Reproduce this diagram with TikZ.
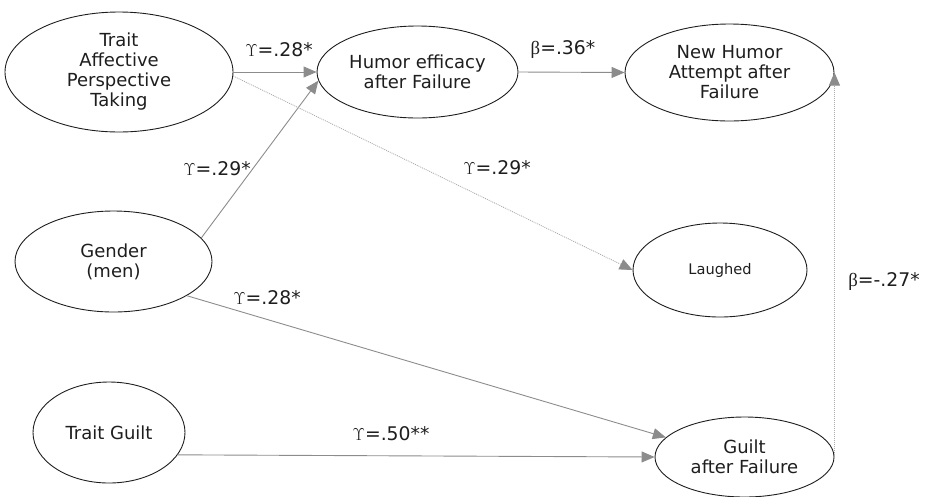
\documentclass[tikz,border=0pt]{standalone}
\usepackage{fontspec}
\setmainfont{DejaVu Sans}
\newfontfamily\grk{Liberation Serif}
\usetikzlibrary{shapes.geometric,arrows.meta}
\definecolor{arrgray}{RGB}{140,140,140}
\definecolor{dotgray}{RGB}{170,170,170}
\definecolor{ink}{RGB}{30,30,30}
\newcommand{\Ups}{$\Upsilon$}
\begin{document}
\begin{tikzpicture}[x=1pt,y=-1pt,
  var/.style={draw=ink, line width=0.9pt, ellipse, inner sep=0pt, align=center,
    text=ink, font=\fontsize{18}{20}\selectfont},
  tip/.style={-{Triangle[length=13pt,width=11pt,fill=arrgray,color=arrgray]}},
  solidarr/.style={draw=arrgray, line width=0.9pt, tip},
  dotarr/.style={draw=dotgray, line width=0.8pt, dash pattern=on 1pt off 1pt, tip},
  coef/.style={text=ink, font=\fontsize{18.8}{20}\selectfont, inner sep=0pt}
]
\useasboundingbox (0,0) rectangle (933,496);

\node[var, minimum width=228pt, minimum height=120pt] (apt) at (119,72) {Trait\\Affective\\Perspective\\Taking};
\node[var, minimum width=201pt, minimum height=92pt] (hum) at (417.5,72) {Humor efficacy\\after Failure};
\node[var, minimum width=209pt, minimum height=97pt] (nha) at (729.5,72.5) {New Humor\\Attempt after\\Failure};
\node[var, minimum width=197pt, minimum height=101pt] (gen) at (113.5,261.5) {Gender\\(men)};
\node[var, minimum width=174pt, minimum height=94pt, font=\fontsize{14.6}{17}\selectfont] (lau) at (720,270) {Laughed};
\node[var, minimum width=152pt, minimum height=101pt] (tg) at (109,432.5) {Trait Guilt};
\node[var, minimum width=179pt, minimum height=80pt] (ga) at (744.5,457) {Guilt\\after Failure};

\draw[solidarr] (apt.east) -- (hum.west);
\draw[solidarr] (gen.15.5) -- (hum.185);
\draw[dotarr] (apt.-2) -- (lau.west);
\draw[solidarr] (hum.east) -- (nha.west);
\draw[solidarr] (gen.-25.4) -- (ga.166.9);
\draw[solidarr] (tg.-18.8) -- (ga.west);
\draw[dotarr] (ga.east) -- (nha.east);

\node[coef] (c1) at (279,50) {\Ups=.28*};
\node[coef] (c2) at (563,50) {{\grk β}=.36*};
\node[coef] (c3) at (217,169) {\Ups=.29*};
\node[coef] (c4) at (497,168) {\Ups=.29*};
\node[coef] (c5) at (267,298) {\Ups=.28*};
\node[coef] (c6) at (884,282) {{\grk β}=-.27*};
\node[coef] (c7) at (391,434) {\Ups=.50**};
\end{tikzpicture}
\end{document}
